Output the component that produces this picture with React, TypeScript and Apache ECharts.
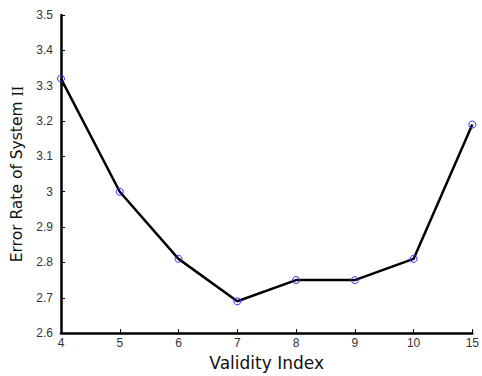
import React, { useEffect, useRef } from "react";
import * as echarts from "echarts";

const categories = ["4", "5", "6", "7", "8", "9", "10", "15"];
const errorRates = [3.32, 3.0, 2.81, 2.69, 2.75, 2.75, 2.81, 3.19];

export default function App() {
  const ref = useRef<HTMLDivElement>(null);
  useEffect(() => {
    if (!ref.current) return;
    const chart = echarts.init(ref.current, null, { renderer: "svg" });
    chart.setOption({
      animation: false,
      backgroundColor: "#ffffff",
      grid: { left: 61, right: 8, top: 15, bottom: 38 },
      xAxis: {
        type: "category",
        data: categories,
        boundaryGap: false,
        name: "Validity Index",
        nameLocation: "middle",
        nameGap: 17,
        nameTextStyle: { fontFamily: "DejaVu Sans", fontSize: 17, color: "#111" },
        axisLine: { lineStyle: { color: "#000", width: 2.5 } },
        axisTick: { inside: true, length: 4, lineStyle: { color: "#000", width: 1 } },
        axisLabel: { margin: 4, fontFamily: "Liberation Sans", fontSize: 12, color: "#333" },
        splitLine: { show: false },
      },
      yAxis: {
        type: "value",
        min: 2.6,
        max: 3.5,
        interval: 0.1,
        name: "{s|Error Rate of System }{r|II}",
        nameLocation: "middle",
        nameGap: 27,
        nameTextStyle: {
          fontFamily: "DejaVu Sans",
          fontSize: 15.5,
          color: "#111",
          rich: {
            s: { fontFamily: "DejaVu Sans", fontSize: 15.5, color: "#111" },
            r: { fontFamily: "Liberation Serif", fontSize: 16, color: "#111" },
          },
        },
        axisLine: { show: true, lineStyle: { color: "#000", width: 2.5 } },
        axisTick: { show: true, inside: true, length: 4, lineStyle: { color: "#000", width: 1 } },
        axisLabel: {
          margin: 8,
          fontFamily: "Liberation Sans",
          fontSize: 12,
          color: "#333",
          formatter: (v: number) => String(Math.round(v * 10) / 10),
        },
        splitLine: { show: false },
      },
      series: [
        {
          type: "line",
          data: errorRates,
          symbol: "circle",
          symbolSize: 7,
          lineStyle: { color: "#000", width: 2.5 },
          itemStyle: { color: "rgba(0,0,0,0)", borderColor: "#2a2aff", borderWidth: 1 },
          z: 3,
        },
      ],
    });
    return () => chart.dispose();
  }, []);
  return (
    <div
      ref={ref}
      style={{ position: "fixed", left: 0, top: 0, width: 482, height: 376 }}
    />
  );
}
